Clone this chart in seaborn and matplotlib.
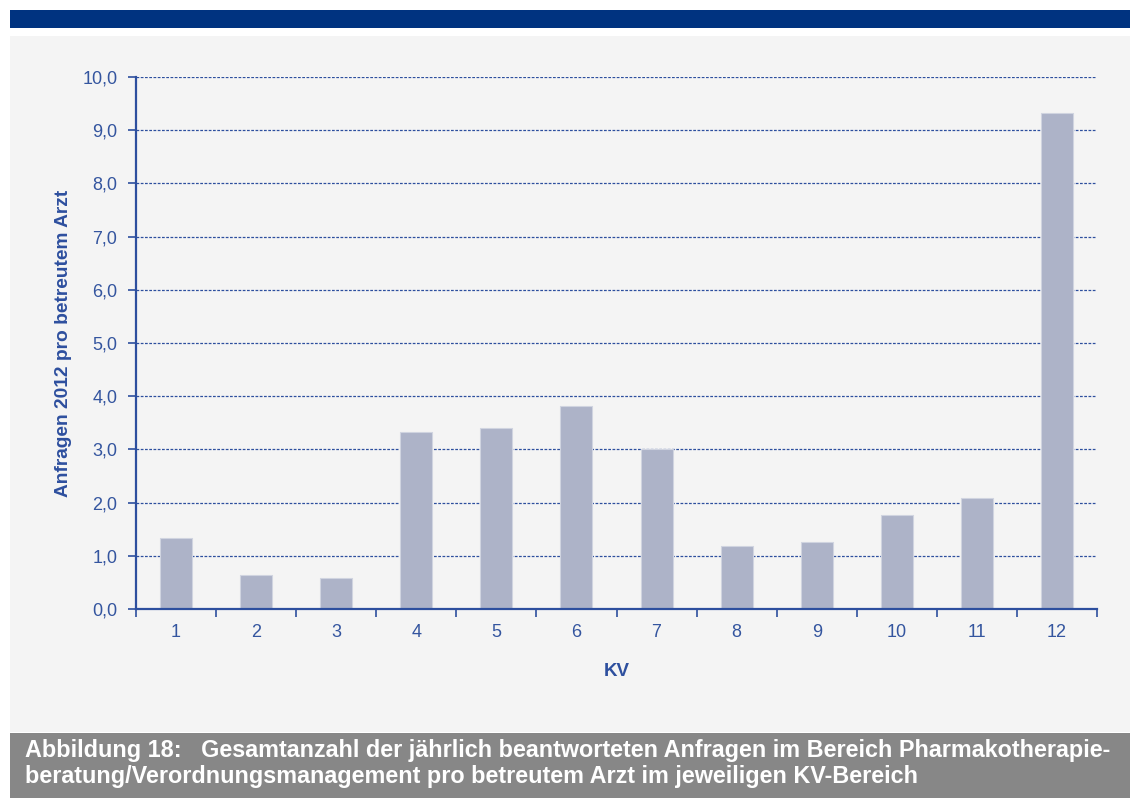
import matplotlib
matplotlib.use('Agg')
import matplotlib.pyplot as plt
import seaborn as sns
import pandas as pd
from matplotlib.patches import Rectangle
from matplotlib.ticker import FuncFormatter, FixedLocator

# values
kv = [str(i) for i in range(1, 13)]
anfragen = [1.33, 0.64, 0.58, 3.33, 3.40, 3.82, 3.01, 1.18, 1.26, 1.77, 2.09, 9.32]
y_ticks = [0, 1, 2, 3, 4, 5, 6, 7, 8, 9, 10]

caption_1 = 'Abbildung 18:   Gesamtanzahl der jährlich beantworteten Anfragen im Bereich Pharmakotherapie-'
caption_2 = 'beratung/Verordnungsmanagement pro betreutem Arzt im jeweiligen KV-Bereich'

blue = '#2d4f9e'
label_blue = '#34559f'
bar_color = '#adb3c8'
panel = '#f4f4f4'


def main():
    sns.set_style('white')
    plt.rcParams['font.family'] = ['Liberation Sans', 'DejaVu Sans']

    df = pd.DataFrame({'KV': kv, 'Anfragen': anfragen})

    fig = plt.figure(figsize=(11.3, 7.98), dpi=100)
    fig.patch.set_facecolor('white')
    W, H = 1130, 798
    # top band, light panel and caption box (behind the axes)
    fig.patches.append(Rectangle((10 / W, 1 - 28 / H), 1120 / W, 18 / H, transform=fig.transFigure,
                                 facecolor='#003380', edgecolor='none', zorder=-2))
    fig.patches.append(Rectangle((10 / W, 1 - 732 / H), 1120 / W, 696 / H, transform=fig.transFigure,
                                 facecolor=panel, edgecolor='none', zorder=-2))
    fig.patches.append(Rectangle((10 / W, 0), 1120 / W, 65 / H, transform=fig.transFigure,
                                 facecolor='#878787', edgecolor='none', zorder=-2))

    ax = fig.add_axes([136 / W, 1 - 609 / H, (1097 - 136) / W, (609 - 77) / H])
    ax.set_facecolor(panel)

    sns.barplot(data=df, x='KV', y='Anfragen', color=bar_color, width=0.4,
                edgecolor='#d0d4e0', linewidth=0.8, ax=ax, zorder=3, saturation=1)

    ax.set_ylim(0, 10)
    ax.set_xlim(-0.5, 11.5)
    ax.yaxis.set_major_locator(FixedLocator(y_ticks))
    ax.yaxis.set_major_formatter(FuncFormatter(lambda v, p: f'{v:.1f}'.replace('.', ',')))
    for v in y_ticks[1:]:
        ax.axhline(v, color=blue, linestyle=(0, (2.2, 1.2)), linewidth=0.9, zorder=1)

    for side in ['top', 'right']:
        ax.spines[side].set_visible(False)
    for side in ['left', 'bottom']:
        ax.spines[side].set_color(blue)
        ax.spines[side].set_linewidth(1.6)
        ax.spines[side].set_zorder(4)

    ax.tick_params(axis='y', which='major', direction='out', length=6, width=1.2,
                   color=blue, labelcolor=label_blue, labelsize=13, pad=7.5, left=True)
    ax.tick_params(axis='x', which='major', length=0, labelcolor=label_blue, labelsize=13, pad=11)
    ax.set_xticks([i + 0.5 for i in range(-1, 12)], minor=True)
    ax.tick_params(axis='x', which='minor', direction='out', length=6, width=1.2, color=blue, bottom=True)

    ax.set_xlabel('KV', color=blue, fontsize=13.5, fontweight='bold', labelpad=16)
    ax.set_ylabel('Anfragen 2012 pro betreutem Arzt', color=blue, fontsize=13.8,
                  fontweight='bold', labelpad=7)

    fig.text(25 / W, 1 - 750 / H, caption_1, color='white', fontsize=16.8, fontweight='bold',
             va='center', ha='left')
    fig.text(25 / W, 1 - 776 / H, caption_2, color='white', fontsize=16.8, fontweight='bold',
             va='center', ha='left')

    fig.savefig('out.png', dpi=100, facecolor=fig.get_facecolor())


if __name__ == '__main__':
    main()
